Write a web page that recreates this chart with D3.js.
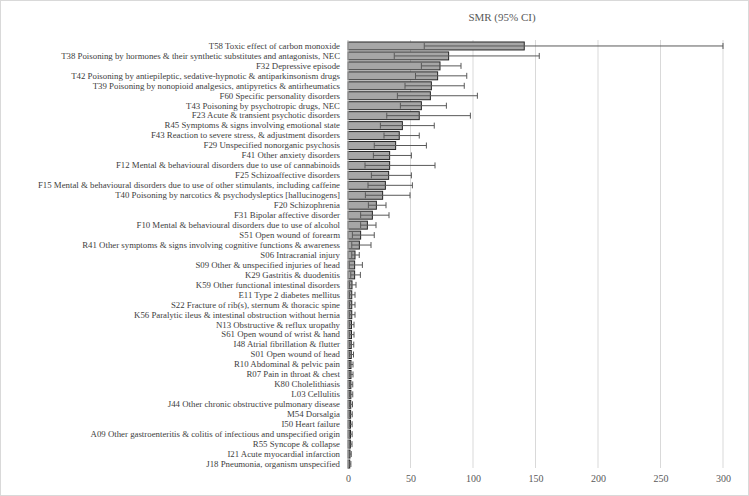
<!DOCTYPE html>
<html><head><meta charset="utf-8">
<script src="https://cdn.jsdelivr.net/npm/d3@7"></script>
<style>body{margin:0;background:#fff}svg{display:block}</style>
</head><body>
<svg id="c" width="749" height="496"></svg>
<script>
const categories = [
"T58 Toxic effect of carbon monoxide",
"T38 Poisoning by hormones & their synthetic substitutes and antagonists, NEC",
"F32 Depressive episode",
"T42 Poisoning by antiepileptic, sedative-hypnotic & antiparkinsonism drugs",
"T39 Poisoning by nonopioid analgesics, antipyretics & antirheumatics",
"F60 Specific personality disorders",
"T43 Poisoning by psychotropic drugs, NEC",
"F23 Acute & transient psychotic disorders",
"R45 Symptoms & signs involving emotional state",
"F43 Reaction to severe stress, & adjustment disorders",
"F29 Unspecified nonorganic psychosis",
"F41 Other anxiety disorders",
"F12 Mental & behavioural disorders due to use of cannabinoids",
"F25 Schizoaffective disorders",
"F15 Mental & behavioural disorders due to use of other stimulants, including caffeine",
"T40 Poisoning by narcotics & psychodysleptics [hallucinogens]",
"F20 Schizophrenia",
"F31 Bipolar affective disorder",
"F10 Mental & behavioural disorders due to use of alcohol",
"S51 Open wound of forearm",
"R41 Other symptoms & signs involving cognitive functions & awareness",
"S06 Intracranial injury",
"S09 Other & unspecified injuries of head",
"K29 Gastritis & duodenitis",
"K59 Other functional intestinal disorders",
"E11 Type 2 diabetes mellitus",
"S22 Fracture of rib(s), sternum & thoracic spine",
"K56 Paralytic ileus & intestinal obstruction without hernia",
"N13 Obstructive & reflux uropathy",
"S61 Open wound of wrist & hand",
"I48 Atrial fibrillation & flutter",
"S01 Open wound of head",
"R10 Abdominal & pelvic pain",
"R07 Pain in throat & chest",
"K80 Cholelithiasis",
"L03 Cellulitis",
"J44 Other chronic obstructive pulmonary disease",
"M54 Dorsalgia",
"I50 Heart failure",
"A09 Other gastroenteritis & colitis of infectious and unspecified origin",
"R55 Syncope & collapse",
"I21 Acute myocardial infarction",
"J18 Pneumonia, organism unspecified"
];
const smr = [141, 80.5, 73.6, 71.7, 66.7, 65.9, 58.7, 57, 43.5, 41, 38.1, 33.3, 33.3, 32.5, 29.9, 27.7, 22.7, 19.5, 15.5, 10.1, 9.1, 5.6, 5.3, 5.3, 3.2, 3.0, 3.0, 3.0, 2.8, 2.8, 2.6, 2.6, 2.4, 2.4, 2.3, 2.3, 2.2, 2.1, 2.0, 2.0, 1.9, 1.6, 1.4];
const ciLow = [61, 37, 58.7, 54, 45.6, 39.5, 41.9, 31, 25.9, 28.8, 21, 20.3, 13.6, 18.7, 16, 13.9, 16.3, 10.1, 10.1, 3.5, 3, 3, 1, 2.2, 1.2, 1.2, 1.2, 1.3, 1.3, 1.3, 1.3, 1.2, 1.2, 1.3, 1.2, 1.2, 1.2, 1.1, 1.1, 1.1, 1.0, 0.9, 0.8];
const ciHigh = [300, 153, 90.4, 95, 93, 103.5, 78.7, 97.9, 69, 57, 62.7, 50.7, 69.6, 50.7, 51.5, 49.6, 30.4, 32.8, 22.4, 21, 18.4, 9, 11.5, 9.9, 6.4, 5.6, 5.6, 5.6, 4.8, 4.8, 4.6, 4.4, 4.0, 4.0, 3.8, 3.8, 3.6, 3.4, 3.3, 3.3, 3.2, 2.6, 2.3];
const xTicks = [0, 50, 100, 150, 200, 250, 300];
const title = "SMR (95% CI)";

const svg = d3.select("#c");
const font = "'Liberation Serif','Times New Roman',serif";
svg.append("rect").attr("x",0.5).attr("y",0.5).attr("width",748).attr("height",495)
  .attr("fill","#fff").attr("stroke","#d9d9d9");

const x = d3.scaleLinear().domain([0,300]).range([348,723]);
const y = d3.scaleBand().domain(categories).range([41,469]).paddingInner(0.2).paddingOuter(0.1);

// gridlines
svg.append("g").selectAll("line").data(xTicks.filter(d=>d>0)).join("line")
  .attr("x1",d=>x(d)).attr("x2",d=>x(d)).attr("y1",40).attr("y2",468)
  .attr("stroke","#d9d9d9").attr("stroke-width",1);

// x axis labels
const xa = svg.append("g").attr("transform","translate(0,468)")
  .call(d3.axisBottom(x).tickValues(xTicks).tickSize(0).tickPadding(7));
xa.select(".domain").remove();
xa.selectAll("text").attr("font-family",font).attr("font-size",10).attr("fill","#595959");

// bars
const rows = categories.map((c,i)=>({c, v:smr[i], lo:ciLow[i], hi:ciHigh[i]}));
svg.append("g").selectAll("rect").data(rows).join("rect")
  .attr("x",x(0)).attr("y",d=>y(d.c)).attr("width",d=>x(d.v)-x(0)).attr("height",y.bandwidth())
  .attr("fill","#a6a6a6").attr("stroke","#262626").attr("stroke-width",1);

// error bars
const eb = svg.append("g").attr("stroke","#595959").attr("stroke-width",1);
rows.forEach(d=>{
  const cy = y(d.c)+y.bandwidth()/2;
  eb.append("line").attr("x1",x(d.lo)).attr("x2",x(d.hi)).attr("y1",cy).attr("y2",cy);
  [d.lo,d.hi].forEach(v=>eb.append("line").attr("x1",x(v)).attr("x2",x(v)).attr("y1",cy-3).attr("y2",cy+3));
});

// y axis line
svg.append("line").attr("x1",x(0)).attr("x2",x(0)).attr("y1",40).attr("y2",468).attr("stroke","#bfbfbf");

// category labels
const ya = svg.append("g").attr("transform",`translate(${x(0)},0)`)
  .call(d3.axisLeft(y).tickSize(0).tickPadding(8));
ya.select(".domain").remove();
ya.selectAll("text").attr("font-family",font).attr("font-size",8.8).attr("fill","#404040");

svg.append("text").attr("x",502).attr("y",21).attr("text-anchor","middle")
  .attr("font-family",font).attr("font-size",11).attr("fill","#595959").text(title);
</script>
</body></html>
